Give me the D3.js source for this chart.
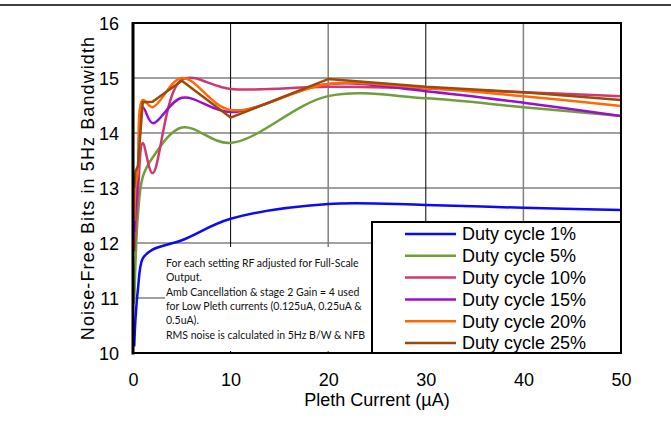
<!DOCTYPE html>
<html><head><meta charset="utf-8">
<script src="https://cdn.jsdelivr.net/npm/d3@7"></script>
<style>body{margin:0;background:#fff}svg{display:block}</style>
</head><body><svg id="c" width="671" height="424"></svg>
<script>
const xs = [0.125, 0.25, 0.5, 1, 2, 5, 10, 20, 30, 40, 50];
const duty1  = [10.12, 10.6, 11.15, 11.72, 11.88, 12.05, 12.44, 12.71, 12.69, 12.64, 12.6];
const duty5  = [10.9, 11.6, 12.5, 13.2, 13.55, 14.1, 13.82, 14.67, 14.63, 14.47, 14.31];
const duty10 = [11.85, 12.2, 12.9, 13.82, 13.27, 14.97, 14.8, 14.84, 14.81, 14.74, 14.67];
const duty15 = [12.2, 12.6, 13.2, 14.47, 14.18, 14.64, 14.38, 14.89, 14.76, 14.55, 14.31];
const duty20 = [12.4, 13.0, 13.3, 14.6, 14.47, 15.0, 14.42, 14.89, 14.82, 14.67, 14.49];
const duty25 = [13.0, 13.3, 13.4, 14.56, 14.57, 14.95, 14.28, 14.98, 14.84, 14.74, 14.6];
const seriesNames = ["Duty cycle 1%","Duty cycle 5%","Duty cycle 10%","Duty cycle 15%","Duty cycle 20%","Duty cycle 25%"];
const xTicks = [0, 10, 20, 30, 40, 50];
const yTicks = [10, 11, 12, 13, 14, 15, 16];
const note = ["For each setting RF adjusted for Full-Scale","Output.","Amb Cancellation & stage 2 Gain = 4 used","for Low Pleth currents (0.125uA, 0.25uA &","0.5uA).","RMS noise is calculated in 5Hz B/W & NFB"];
const xTitle = "Pleth Current (µA)";
const yTitle = "Noise-Free Bits in 5Hz Bandwidth";

const colors = ["#0a0af5","#6f9e3b","#cc3a70","#9a10c8","#ff6a00","#9c4a0c"];
const allSeries = [duty1, duty5, duty10, duty15, duty20, duty25];

const L=133, R=621, T=23, B=353;
const svg = d3.select("#c");
const x = d3.scaleLinear().domain([0,50]).range([L,R]);
const y = d3.scaleLinear().domain([10,16]).range([B,T]);
const font = "Liberation Sans, Arial, sans-serif";

// top rule
svg.append("line").attr("x1",0).attr("x2",671).attr("y1",5).attr("y2",5).attr("stroke","#000").attr("stroke-width",1.6);

// gridlines
svg.append("g").selectAll("line").data(yTicks.slice(1,-1)).join("line")
  .attr("x1",L).attr("x2",R).attr("y1",d=>y(d)).attr("y2",d=>y(d))
  .attr("stroke","#808080").attr("stroke-width",1.5);
svg.append("g").selectAll("line").data(xTicks.slice(1,-1)).join("line")
  .attr("x1",d=>x(d)).attr("x2",d=>x(d)).attr("y1",T).attr("y2",B)
  .attr("stroke",d=>(d%20===10)?"#000":"#808080").attr("stroke-width",d=>(d%20===10)?1:1.5);

// lines
svg.append("clipPath").attr("id","pc").append("rect").attr("x",L).attr("y",T).attr("width",R-L).attr("height",B-T);
const g = svg.append("g").attr("clip-path","url(#pc)");
allSeries.forEach((s,i)=>{
  const line = d3.line().x((d,j)=>x(xs[j])).y(d=>y(d))
    .curve(i===5 ? d3.curveLinear : d3.curveCatmullRom.alpha(0.5));
  g.append("path").attr("d",line(s)).attr("fill","none").attr("stroke",colors[i]).attr("stroke-width",2.5).attr("stroke-linejoin","round");
});

// annotation box
svg.append("rect").attr("x",165).attr("y",247).attr("width",207).attr("height",104).attr("fill","#fff");
svg.append("g").selectAll("text").data(note).join("text")
  .attr("x",166).attr("y",(d,i)=>267+i*14.3).text(d=>d)
  .attr("font-family","Lato, Carlito, sans-serif").attr("font-size",10.5).attr("fill","#111");

// frame
svg.append("rect").attr("x",L).attr("y",T).attr("width",R-L).attr("height",B-T).attr("fill","none").attr("stroke","#000").attr("stroke-width",2);
svg.append("line").attr("x1",L).attr("x2",L).attr("y1",T-1).attr("y2",B+1.5).attr("stroke","#000").attr("stroke-width",3);

// axes labels
const xAxis = d3.axisBottom(x).tickValues(xTicks).tickSize(0).tickPadding(0).tickFormat(d3.format("d"));
const xa = svg.append("g").attr("transform",`translate(0,${B})`).call(xAxis);
xa.select(".domain").remove();
xa.selectAll("text").attr("dy",0).attr("y",33).attr("font-family",font).attr("font-size",18).attr("fill","#000");
const yAxis = d3.axisLeft(y).tickValues(yTicks).tickSize(0).tickPadding(0).tickFormat(d3.format("d"));
const ya = svg.append("g").attr("transform",`translate(119,0)`).call(yAxis);
ya.select(".domain").remove();
ya.selectAll("text").attr("x",0).attr("dy","0.35em").attr("font-family",font).attr("font-size",18).attr("fill","#000");

svg.append("text").attr("x",(L+R)/2).attr("y",406).attr("text-anchor","middle").attr("font-family",font).attr("font-size",18).text(xTitle);
svg.append("text").attr("transform",`translate(94,${(T+B)/2}) rotate(-90)`).attr("text-anchor","middle").attr("font-family",font).attr("font-size",18).attr("letter-spacing",1.1).text(yTitle);

// legend
svg.append("rect").attr("x",372).attr("y",222).attr("width",249).attr("height",131).attr("fill","#fff").attr("stroke","#000").attr("stroke-width",2);
const lg = svg.append("g").selectAll("g").data(seriesNames).join("g").attr("transform",(d,i)=>`translate(0,${234+i*21.8})`);
lg.append("line").attr("x1",405).attr("x2",456).attr("y1",0).attr("y2",0).attr("stroke",(d,i)=>colors[i]).attr("stroke-width",2.5);
lg.append("text").attr("x",462).attr("y",0).attr("dy","0.35em").attr("font-family",font).attr("font-size",18).text(d=>d);
</script></body></html>
